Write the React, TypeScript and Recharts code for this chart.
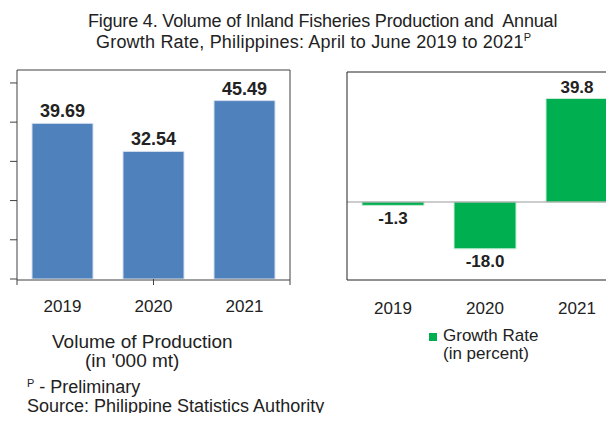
import React from "react";
import { Bar, BarChart, LabelList, ReferenceLine, XAxis, YAxis } from "recharts";

const years = ["2019", "2020", "2021"];
const volume = [39.69, 32.54, 45.49];
const growth = [-1.3, -18.0, 39.8];
const volumeTicks = [0, 10, 20, 30, 40, 50];
const edgeTicks = [0, 1, 2, 3];

const volumeData = years.map((year, i) => ({ year, volume: volume[i] }));
const growthData = years.map((year, i) => ({ year, growth: growth[i] }));

const FONT = "'Liberation Sans', Arial, sans-serif";
const TEXT = "#222";

const valueLabel = (decimals: number, size: number) => (props: any) => {
    const { x, y, width, height, value } = props;
    const top = Math.min(y, y + height);
    const bottom = Math.max(y, y + height);
    const v = Number(value);
    return (
        <text
            x={x + width / 2}
            y={v >= 0 ? top - 6 : bottom + 6 + size * 0.72}
            textAnchor="middle"
            fontFamily={FONT}
            fontSize={size}
            fontWeight={700}
            fill={TEXT}
        >
            {v.toFixed(decimals)}
        </text>
    );
};

const abs = (left: number, top: number, size: number, extra: React.CSSProperties = {}): React.CSSProperties => ({
    position: "absolute",
    left,
    top,
    fontSize: size,
    lineHeight: `${size}px`,
    fontFamily: FONT,
    color: TEXT,
    whiteSpace: "nowrap",
    ...extra,
});

export default function App() {
    return (
        <div style={{ position: "relative", width: 614, height: 421, margin: -8, overflow: "hidden", background: "#fff" }}>
            <div style={abs(88, 11.5, 18, { letterSpacing: -0.17 })}>
                Figure 4. Volume of Inland Fisheries Production and&nbsp; Annual
            </div>
            <div style={abs(96, 32.5, 18, { letterSpacing: 0.2 })}>
                Growth Rate, Philippines: April to June 2019 to 2021
                <sup style={{ fontSize: 11, verticalAlign: "7px", lineHeight: 0 }}>P</sup>
            </div>

            <div style={{ position: "absolute", left: 0, top: 60 }}>
                <BarChart width={300} height={270} data={volumeData} margin={{ top: 9, right: 9, bottom: 0, left: 0 }}>
                    <XAxis
                        xAxisId="cat"
                        dataKey="year"
                        height={50}
                        axisLine={{ stroke: "#404040" }}
                        tickLine={false}
                        tickSize={6}
                        tickMargin={14}
                        tick={{ fill: TEXT, fontSize: 17, fontFamily: FONT }}
                    />
                    <XAxis
                        xAxisId="aedge"
                        type="number"
                        domain={[0, 3]}
                        ticks={edgeTicks}
                        allowDataOverflow
                        height={1}
                        axisLine={false}
                        tickLine={{ stroke: "#404040" }}
                        tickSize={6}
                        tickFormatter={() => ""}
                    />
                    <XAxis xAxisId="top" orientation="top" type="number" domain={[0, 3]} allowDataOverflow height={1} tick={false} tickLine={false} axisLine={{ stroke: "#404040" }} />
                    <YAxis
                        yAxisId="left"
                        domain={[0, 53.3]}
                        ticks={volumeTicks}
                        allowDataOverflow
                        width={17}
                        axisLine={{ stroke: "#404040" }}
                        tickLine={{ stroke: "#404040" }}
                        tickSize={7}
                        tickFormatter={() => ""}
                    />
                    <YAxis yAxisId="right" orientation="right" width={1} tick={false} tickLine={false} axisLine={{ stroke: "#404040" }} />
                    <Bar xAxisId="cat" yAxisId="left" dataKey="volume" fill="#4F81BD" stroke="#d5dfee" strokeWidth={1} barSize={61} isAnimationActive={false}>
                        <LabelList dataKey="volume" content={valueLabel(2, 18)} />
                    </Bar>
                </BarChart>
            </div>

            <div style={{ position: "absolute", left: 330, top: 60 }}>
                <BarChart width={310} height={270} data={growthData} margin={{ top: 11, right: 17, bottom: 0, left: 0 }}>
                    <XAxis
                        dataKey="year"
                        height={50}
                        axisLine={{ stroke: "#222" }}
                        tickLine={false}
                        tickSize={6}
                        tickMargin={16}
                        tick={{ fill: TEXT, fontSize: 17, fontFamily: FONT }}
                    />
                    <XAxis xAxisId="top" orientation="top" type="number" domain={[0, 3]} allowDataOverflow height={1} tick={false} tickLine={false} axisLine={{ stroke: "#222" }} />
                    <YAxis domain={[-30, 50]} allowDataOverflow width={17} axisLine={{ stroke: "#222" }} tick={false} tickLine={false} />
                    <ReferenceLine y={0} stroke="#999" strokeWidth={1} />
                    <Bar dataKey="growth" fill="#00B050" stroke="#c8ecd6" strokeWidth={1} barSize={62} isAnimationActive={false}>
                        <LabelList dataKey="growth" content={valueLabel(1, 17)} />
                    </Bar>
                </BarChart>
            </div>

            <div style={abs(52, 332, 19)}>Volume of Production</div>
            <div style={abs(85, 351, 19)}>(in '000 mt)</div>

            <div style={{ position: "absolute", left: 429, top: 333, width: 8, height: 8, background: "#00B050" }} />
            <div style={abs(443, 327, 17)}>Growth Rate</div>
            <div style={abs(443, 345, 17)}>(in percent)</div>

            <div style={abs(27, 378, 18)}>
                <sup style={{ fontSize: 11, verticalAlign: "6px", lineHeight: 0 }}>P</sup> - Preliminary
            </div>
            <div style={abs(27, 397, 18)}>Source: Philippine Statistics Authority</div>
        </div>
    );
}
